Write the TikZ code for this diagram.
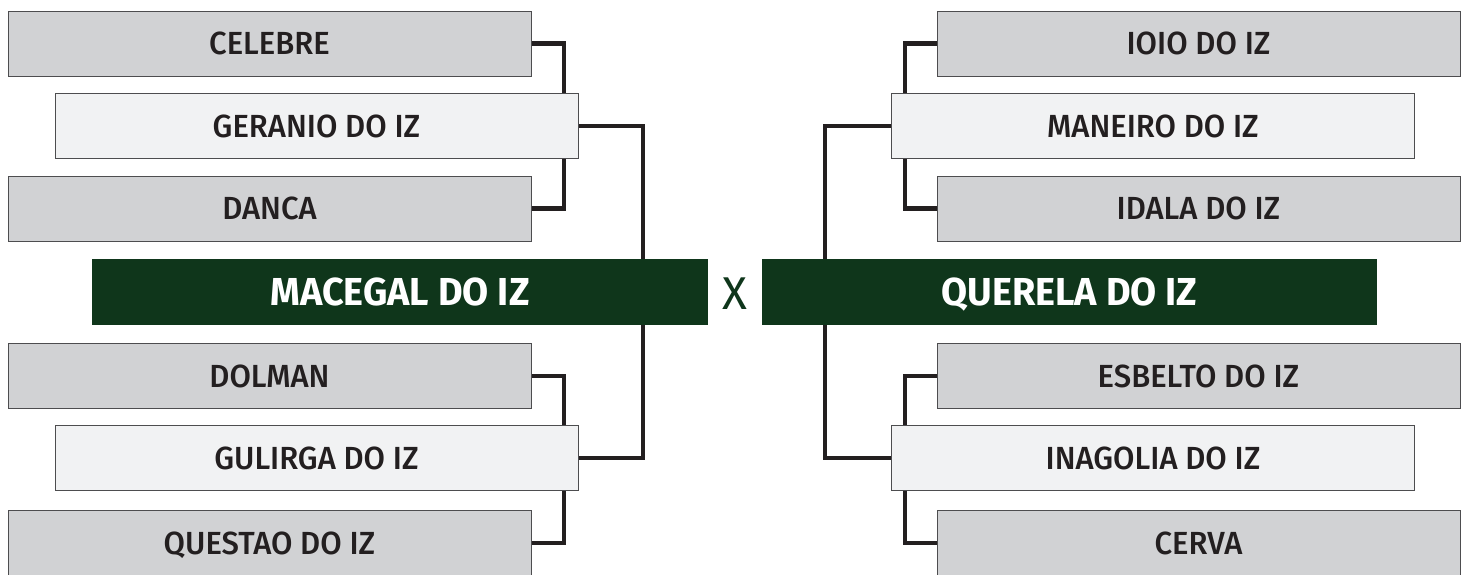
\documentclass[tikz,border=0pt]{standalone}
\usepackage{fontspec}
\setmainfont{Fira Sans}
\newfontfamily\boxfont{Fira Sans}[UprightFont=* Medium, FakeStretch=0.97]
\newfontfamily\teamfont{Fira Sans}[UprightFont=* Bold, FakeStretch=0.97]
\newfontfamily\vsfont{Fira Sans}
\definecolor{boxgray}{HTML}{D1D2D4}
\definecolor{boxlight}{HTML}{F1F2F3}
\definecolor{boxedge}{HTML}{4D4D4F}
\definecolor{teamgreen}{HTML}{0F361B}
\definecolor{inkdark}{HTML}{231F20}
\pgfdeclarelayer{bg}
\pgfsetlayers{bg,main}
\tikzset{
  basebox/.style={draw=boxedge, line width=1pt, minimum width=523pt, minimum height=65pt, inner sep=0pt, text=inkdark, text height=22pt, text depth=0pt, font=\boxfont\fontsize{32}{38}\selectfont},
  graybox/.style={basebox, fill=boxgray},
  lightbox/.style={basebox, fill=boxlight},
  teambox/.style={fill=teamgreen, draw=none, minimum width=616pt, minimum height=66pt, inner sep=0pt, text=white, text height=27pt, text depth=0pt, font=\teamfont\fontsize{39}{45}\selectfont},
  versus/.style={text=teamgreen, inner sep=0pt, text height=32pt, text depth=0pt, font=\vsfont\fontsize{46}{52}\selectfont},
  conn/.style={draw=inkdark, line width=4.5pt, line cap=rect, line join=miter}
}
\begin{document}
\begin{tikzpicture}[x=1pt,y=-1pt]
\useasboundingbox (0,0) rectangle (1469,574);
\clip (0,0) rectangle (1469,574);
% left side
\node[graybox]  (celebre) at (269.5,43.5) {CELEBRE};
\node[lightbox] (geranio) at (316.5,126) {GERANIO DO IZ};
\node[graybox]  (danca)   at (269.5,208.5) {DANCA};
\node[graybox]  (dolman)  at (269.5,376) {DOLMAN};
\node[lightbox] (gulirga) at (316.5,458) {GULIRGA DO IZ};
\node[graybox]  (questao) at (269.5,543) {QUESTAO DO IZ};
% right side
\node[graybox]  (ioio)     at (1198.5,43.5) {IOIO DO IZ};
\node[lightbox] (maneiro)  at (1153,126) {MANEIRO DO IZ};
\node[graybox]  (idala)    at (1198.5,208.5) {IDALA DO IZ};
\node[graybox]  (esbelto)  at (1198.5,376) {ESBELTO DO IZ};
\node[lightbox] (inagolia) at (1153,458) {INAGOLIA DO IZ};
\node[graybox]  (cerva)    at (1198.5,543) {CERVA};
% finalists
\node[teambox] (macegal) at (400,292) {MACEGAL DO IZ};
\node[teambox, minimum width=615pt] (querela) at (1069.5,292) {QUERELA DO IZ};
\node[versus] (vs) at (735,293) {X};
% vertical rails
\coordinate (lrail) at (564,0);
\coordinate (lmain) at (643,0);
\coordinate (rrail) at (905,0);
\coordinate (rmain) at (825,0);
\begin{pgfonlayer}{bg}
\draw[conn] (celebre.east) -- (celebre.east -| lrail) -- (danca.east -| lrail) -- (danca.east);
\draw[conn] (dolman.east) -- (dolman.east -| lrail) -- (questao.east -| lrail) -- (questao.east);
\draw[conn] (geranio.east) -- (geranio.east -| lmain) -- (gulirga.east -| lmain) -- (gulirga.east);
\draw[conn] (ioio.west) -- (ioio.west -| rrail) -- (idala.west -| rrail) -- (idala.west);
\draw[conn] (esbelto.west) -- (esbelto.west -| rrail) -- (cerva.west -| rrail) -- (cerva.west);
\draw[conn] (maneiro.west) -- (maneiro.west -| rmain) -- (inagolia.west -| rmain) -- (inagolia.west);
\end{pgfonlayer}
\end{tikzpicture}
\end{document}
